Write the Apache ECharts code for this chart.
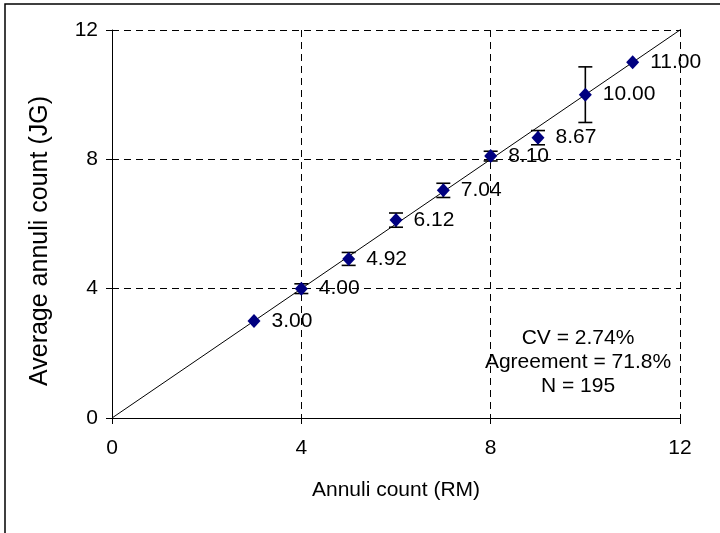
<!DOCTYPE html>
<html>
<head>
<meta charset="utf-8">
<script src="https://cdn.jsdelivr.net/npm/echarts@6/dist/echarts.min.js"></script>
<style>html,body{margin:0;padding:0;background:#fff;}#c{width:720px;height:533px;}</style>
</head>
<body>
<div id="c"></div>
<script>
const xCounts = [3, 4, 5, 6, 7, 8, 9, 10, 11];
const meanCounts = [3.00, 4.00, 4.92, 6.12, 7.04, 8.10, 8.67, 10.00, 11.00];
const errors = [0, 0.15, 0.2, 0.22, 0.22, 0.15, 0.22, 0.86, 0];
const axisTicks = [0, 4, 8, 12];
const identityLine = [[0, 0], [12.2, 12.2]];
const statLines = ['CV = 2.74%', 'Agreement = 71.8%', 'N = 195'];
const xTitle = 'Annuli count (RM)';
const yTitle = 'Average annuli count (JG)';

const FONT = "'Liberation Sans', Arial, sans-serif";
const chart = echarts.init(document.getElementById('c'), null, {renderer: 'canvas'});

const points = xCounts.map((x, i) => [x, meanCounts[i]]);
const errData = xCounts.map((x, i) => [x, meanCounts[i], errors[i]]);

const axisCommon = {
  min: axisTicks[0], max: axisTicks[axisTicks.length - 1], interval: axisTicks[1] - axisTicks[0],
  axisLine: {show: true, lineStyle: {color: '#000', width: 1}},
  axisTick: {show: true, length: 6, lineStyle: {color: '#000'}},
  splitLine: {show: true, lineStyle: {color: '#000', width: 1, type: [7, 5]}},
  axisLabel: {color: '#000', fontSize: 21, fontFamily: FONT},
  nameTextStyle: {color: '#000', fontSize: 21, fontFamily: FONT}
};

chart.setOption({
  animation: false,
  backgroundColor: '#fff',
  grid: {left: 112, top: 30, right: 40, bottom: 115, containLabel: false},
  xAxis: Object.assign({}, axisCommon, {
    type: 'value', name: xTitle, nameLocation: 'middle', nameGap: 62,
    axisLabel: Object.assign({}, axisCommon.axisLabel, {margin: 20})
  }),
  yAxis: Object.assign({}, axisCommon, {
    type: 'value', name: '',
    axisLabel: Object.assign({}, axisCommon.axisLabel, {margin: 14})
  }),
  series: [
    {
      type: 'line', data: identityLine, symbol: 'none', clip: false,
      lineStyle: {color: '#000', width: 1}, z: 2, silent: true
    },
    {
      type: 'custom', z: 3, clip: false,
      data: errData,
      renderItem: function (params, api) {
        const x = api.value(0), y = api.value(1), e = api.value(2);
        if (!e) return null;
        const top = api.coord([x, y + e]);
        const bot = api.coord([x, y - e]);
        const hw = 7;
        const st = {stroke: '#000', lineWidth: 1.6};
        return {type: 'group', children: [
          {type: 'line', shape: {x1: top[0], y1: top[1], x2: bot[0], y2: bot[1]}, style: st},
          {type: 'line', shape: {x1: top[0] - hw, y1: top[1], x2: top[0] + hw, y2: top[1]}, style: st},
          {type: 'line', shape: {x1: bot[0] - hw, y1: bot[1], x2: bot[0] + hw, y2: bot[1]}, style: st}
        ]};
      }
    },
    {
      type: 'scatter', data: points, symbol: 'diamond', symbolSize: [13, 14], z: 4,
      itemStyle: {color: '#000080', opacity: 1},
      label: {
        show: true, position: 'right', distance: 11, color: '#000',
        fontSize: 21, fontFamily: FONT,
        formatter: p => p.value[1].toFixed(2)
      }
    }
  ],
  graphic: [
    {type: 'rect', shape: {x: 5, y: 4, width: 800, height: 700},
     style: {fill: 'none', stroke: '#000', lineWidth: 1.5}, silent: true, z: 0},
    {type: 'text', x: 40, y: 241, rotation: Math.PI / 2, z: 10,
     style: {text: yTitle, fill: '#000', font: '25px ' + FONT, textAlign: 'center', textVerticalAlign: 'middle'}}
  ].concat(statLines.map((t, i) => ({
    type: 'text', x: 578, y: 338 + i * 24, z: 10,
    style: {text: t, fill: '#000', font: '21px ' + FONT, textAlign: 'center', textVerticalAlign: 'middle'}
  })))
});
</script>
</body>
</html>
